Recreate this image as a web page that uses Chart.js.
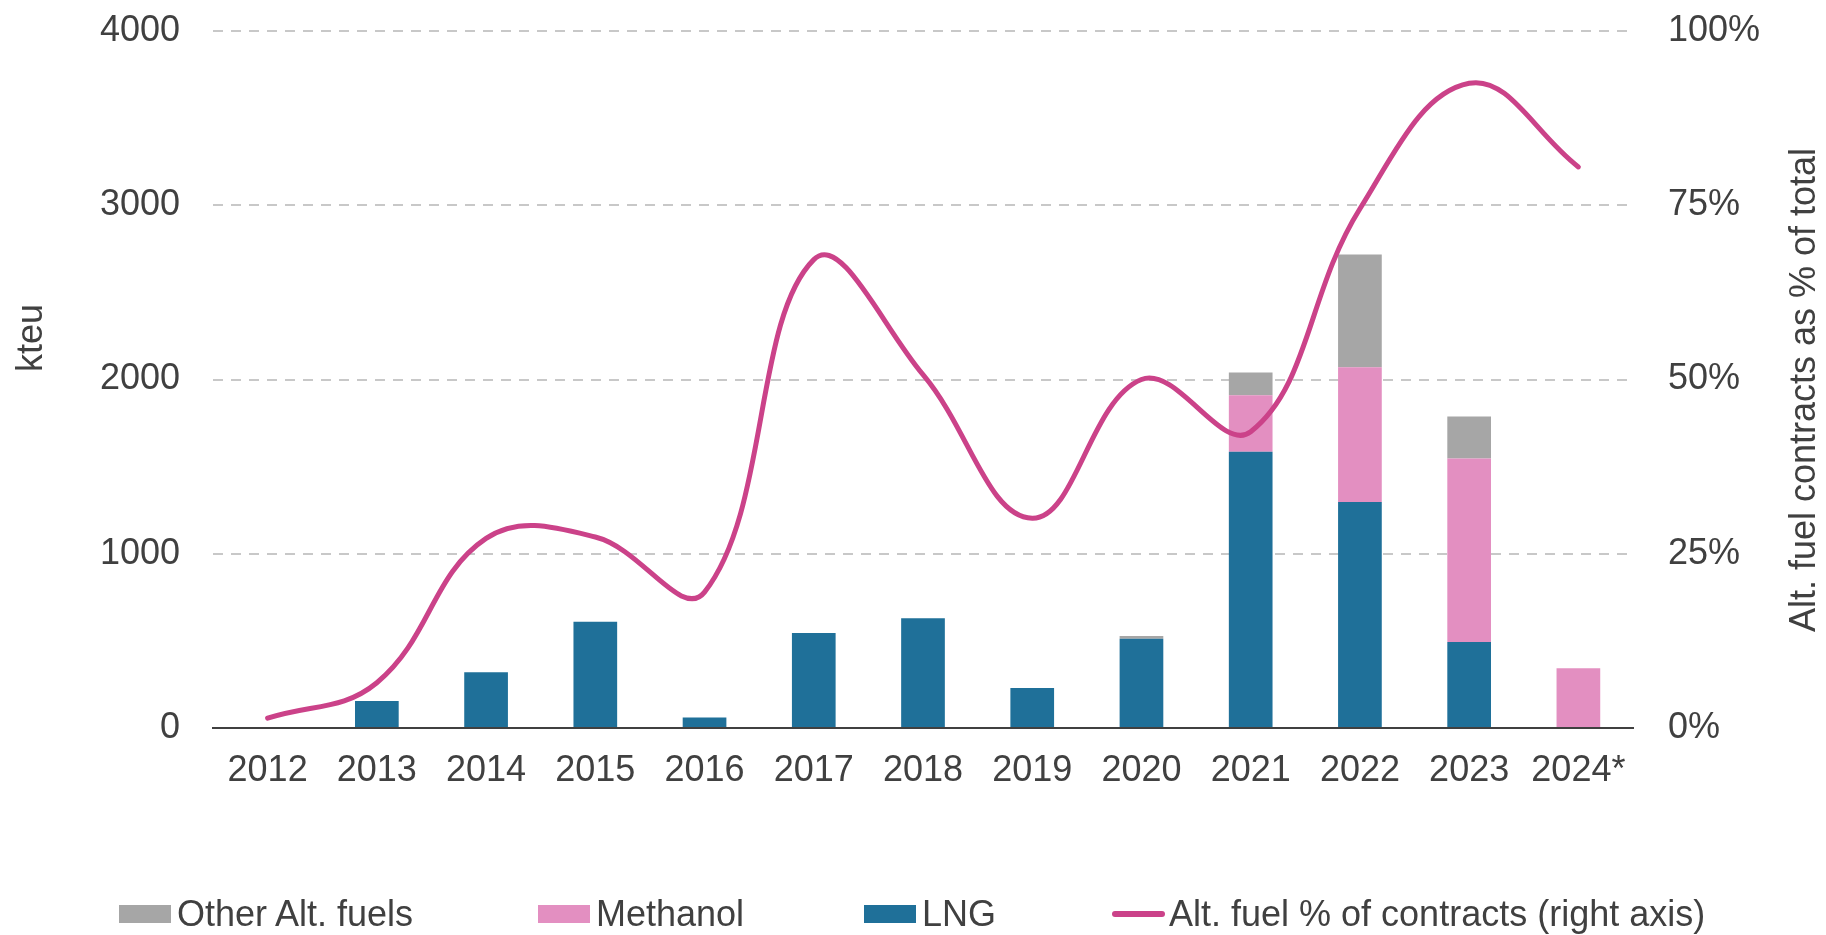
<!DOCTYPE html>
<html>
<head>
<meta charset="utf-8">
<script src="https://cdn.jsdelivr.net/npm/chart.js@4/dist/chart.umd.min.js"></script>
<style>
  body { margin: 0; background: #fff; }
  #wrap { position: relative; width: 1826px; height: 935px; }
  .leg { position: absolute; top: 893px; height: 42px; display: flex; align-items: center;
         font-family: "Liberation Sans", Arial, sans-serif; font-size: 36px; color: #404040; white-space: nowrap; }
  .box { width: 52px; height: 18px; margin-right: 6px; }
  .ln { width: 53px; height: 6px; border-radius: 3px; margin-right: 4px; }
</style>
</head>
<body>
<div id="wrap">
  <canvas id="chart"></canvas>
  <div class="leg" style="left:119px"><span class="box" style="background:#A6A6A6"></span>Other Alt. fuels</div>
  <div class="leg" style="left:538px"><span class="box" style="background:#E38FC1"></span>Methanol</div>
  <div class="leg" style="left:864px"><span class="box" style="background:#1F7099"></span>LNG</div>
  <div class="leg" style="left:1112px"><span class="ln" style="background:#CB4289"></span>Alt. fuel % of contracts (right axis)</div>
</div>
<script>
// categorias y valores
const years = ["2012", "2013", "2014", "2015", "2016", "2017", "2018", "2019", "2020", "2021", "2022", "2023", "2024*"];
const lng = [0, 155, 320, 610, 60, 545, 630, 230, 512, 1585, 1297, 494, 0];
const methanol = [0, 0, 0, 0, 0, 0, 0, 0, 0, 325, 773, 1052, 343];
const otherFuels = [0, 0, 0, 0, 0, 0, 0, 0, 16, 130, 647, 241, 0];
const altShare = [0.014, 0.065, 0.272, 0.274, 0.195, 0.672, 0.507, 0.301, 0.50, 0.425, 0.745, 0.925, 0.805];
const leftTicks = [0, 1000, 2000, 3000, 4000];
const rightTicks = [0, 0.25, 0.5, 0.75, 1];

const font = { family: "'Liberation Sans', Arial, sans-serif", size: 36 };
const textColor = "#404040";

// titulos de ejes girados (ambos de abajo hacia arriba, como en Excel)
const axisTitles = {
  id: "axisTitles",
  afterDraw(chart) {
    const ctx = chart.ctx;
    ctx.save();
    ctx.font = "36px 'Liberation Sans', Arial, sans-serif";
    ctx.fillStyle = textColor;
    ctx.textAlign = "center";
    ctx.textBaseline = "middle";
    [["kteu", 32, 338], ["Alt. fuel contracts as % of total", 1805, 390]].forEach(([t, x, y]) => {
      ctx.save();
      ctx.translate(x, y);
      ctx.rotate(-Math.PI / 2);
      ctx.fillText(t, 0, 0);
      ctx.restore();
    });
    ctx.restore();
  },
};

new Chart(document.getElementById("chart").getContext("2d"), {
  type: "bar",
  data: {
    labels: years,
    datasets: [
      { label: "LNG", data: lng, backgroundColor: "#1F7099", order: 2 },
      { label: "Methanol", data: methanol, backgroundColor: "#E38FC1", order: 2 },
      { label: "Other Alt. fuels", data: otherFuels, backgroundColor: "#A6A6A6", order: 2 },
      {
        type: "line",
        label: "Alt. fuel % of contracts (right axis)",
        data: altShare,
        yAxisID: "y1",
        borderColor: "#CB4289",
        borderWidth: 5,
        pointRadius: 0,
        tension: 0.4,
        borderCapStyle: "round",
        order: 1,
      },
    ],
  },
  options: {
    responsive: true,
    maintainAspectRatio: false,
    animation: false,
    layout: { padding: { top: 31, bottom: 144, left: 0, right: 0 } },
    datasets: { bar: { categoryPercentage: 1, barPercentage: 0.4 } },
    scales: {
      x: {
        stacked: true,
        grid: { display: false, drawTicks: false },
        border: { display: true, color: "#404040", width: 2 },
        ticks: { font: font, color: textColor, padding: 21, maxRotation: 0 },
        afterFit: (s) => { s.height = 63; s.paddingLeft = 0; s.paddingRight = 0; },
      },
      y: {
        stacked: true,
        min: 0,
        max: 4000,
        afterBuildTicks: (s) => { s.ticks = leftTicks.map((v) => ({ value: v })); },
        afterFit: (s) => { s.width = 213; s.paddingTop = 0; s.paddingBottom = 0; },
        grid: { color: "#C8C8C8", lineWidth: 2, drawTicks: false },
        border: { display: false, dash: [10, 8] },
        ticks: { font: font, color: textColor, padding: 33, callback: (v) => String(v) },
      },
      y1: {
        position: "right",
        min: 0,
        max: 1,
        afterBuildTicks: (s) => { s.ticks = rightTicks.map((v) => ({ value: v })); },
        afterFit: (s) => { s.width = 193; s.paddingTop = 0; s.paddingBottom = 0; },
        grid: { display: false, drawTicks: false },
        border: { display: false },
        ticks: {
          font: font,
          color: textColor,
          padding: 35,
          callback: (v) => Math.round(v * 100) + "%",
        },
      },
    },
    plugins: {
      legend: { display: false },
      tooltip: { enabled: false },
    },
  },
  plugins: [axisTitles],
});
</script>
</body>
</html>
